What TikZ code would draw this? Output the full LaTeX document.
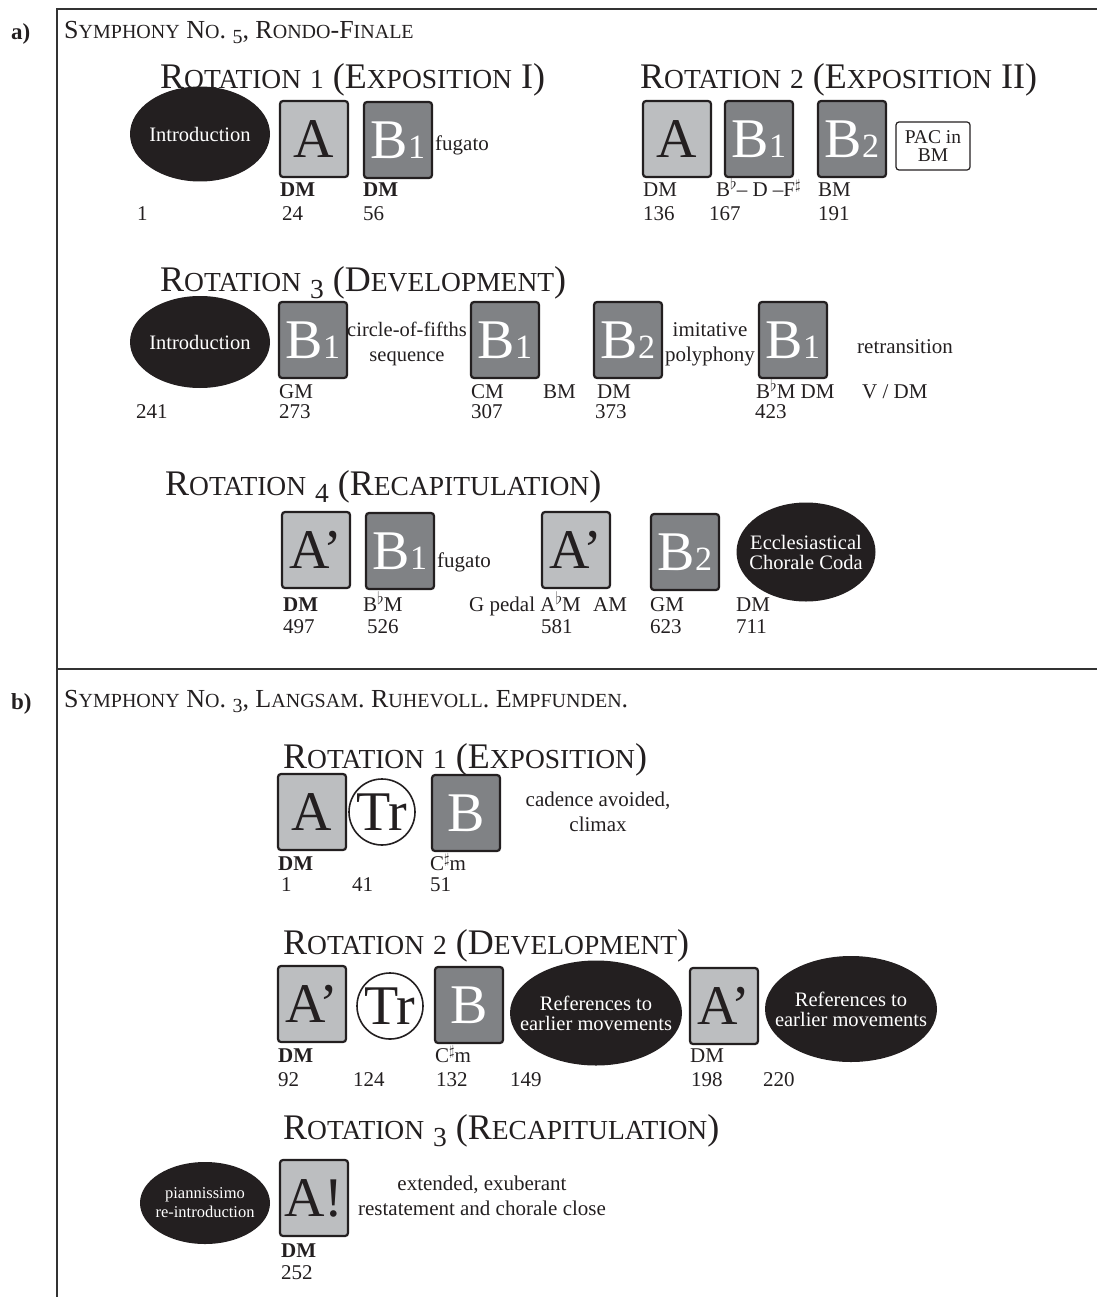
\documentclass[tikz,border=0pt]{standalone}
\usepackage{fontspec}
\setmainfont{Liberation Serif}
\usetikzlibrary{shapes.geometric}
\definecolor{lg}{HTML}{BCBEC0}
\definecolor{dg}{HTML}{808285}
\definecolor{ink}{HTML}{231F20}
\definecolor{frm}{HTML}{333333}
\newcommand\szBig{\fontsize{56}{56}\selectfont}
\newcommand\szHead{\fontsize{36}{36}\selectfont}
\newcommand\szTitle{\fontsize{26}{26}\selectfont}
\newcommand\szBody{\fontsize{21}{25}\selectfont}
\newcommand\szEll{\fontsize{20.5}{23}\selectfont}
\newcommand\szPac{\fontsize{19.5}{21}\selectfont}
\newcommand\szSmall{\fontsize{16.5}{19}\selectfont}
% fake small caps
\newcommand\hsc[1]{{\fontsize{27.5}{27.5}\selectfont #1}}
\newcommand\tsc[1]{{\fontsize{20}{20}\selectfont #1}}
% old-style-like digits
\newcommand\hdig[1]{\hsc{#1}}
\newcommand\hdigd[1]{\raisebox{-7pt}{\hsc{#1}}}
\newcommand\tdigd[1]{\raisebox{-5pt}{\tsc{#1}}}
% small digit in a box
\newcommand\bsub[1]{{\fontsize{34}{34}\selectfont #1}}
% accidentals
\newcommand\flt{\raisebox{7pt}{\fontsize{16}{16}\selectfont$\flat$}}
\newcommand\shp{\raisebox{7pt}{\fontsize{15}{15}\selectfont$\sharp$}}
\tikzset{
 sbox/.style={draw=ink, line width=2.2pt, rounded corners=3pt, minimum width=68pt, minimum height=76pt, inner sep=0pt, font=\szBig},
 lbox/.style={sbox, fill=lg, text=ink},
 dbox/.style={sbox, fill=dg, text=white},
 blob/.style={ellipse, fill=ink, inner sep=0pt},
 btext/.style={align=center, inner sep=0pt, text=white, font=\szEll},
 trc/.style={circle, draw=ink, line width=1.6pt, minimum size=66pt, inner sep=0pt, font=\szBig, text=ink},
 lbl/.style={anchor=base west, inner sep=0pt, font=\szBody, text=ink},
 note/.style={align=center, inner sep=0pt, font=\szBody, text=ink},
 head/.style={anchor=base west, inner sep=0pt, font=\szHead, text=ink},
 ttl/.style={anchor=base west, inner sep=0pt, font=\szTitle, text=ink},
 side/.style={anchor=base west, inner sep=0pt, font=\fontsize{23}{23}\selectfont\bfseries, text=ink},
}
\begin{document}
\begin{tikzpicture}[x=1pt,y=-1pt]
\useasboundingbox (0,0) rectangle (1097,1297);
% frame
\draw[frm, line width=2.5pt] (57,1297) -- (57,9) -- (1097,9);
\draw[frm, line width=2.5pt] (57,669) -- (1097,669);
% ================= a)
\node[side] (la) at (11,40) {a)};
\node[ttl] (ta) at (64,39) {S\tsc{YMPHONY} N\tsc{O}. \tdigd{5}, R\tsc{ONDO}-F\tsc{INALE}};
\node[head] (r1) at (160,89) {R\hsc{OTATION} \hdig{1} (E\hsc{XPOSITION} I)};
\node[head] (r2) at (640,89) {R\hsc{OTATION} \hdig{2} (E\hsc{XPOSITION} II)};
% row a1
\node[blob, minimum width=140pt, minimum height=95pt] (i1) at (200,134) {};
\node[btext] (i1t) at (i1.center) {Introduction};
\node[lbox] (a1A) at (314,139) {A};
\node[dbox] (a1B) at (398,140) {B\bsub{1}};
\node[lbl] (a1f) at (435,151) {fugato};
\node[lbl] (a1k1) at (280,197) {\textbf{DM}};
\node[lbl] (a1k2) at (363,197) {\textbf{DM}};
\node[lbl] (a1n1) at (137,221) {1};
\node[lbl] (a1n2) at (282,221) {24};
\node[lbl] (a1n3) at (363,221) {56};
% row a2
\node[lbox] (a2A) at (677,139) {A};
\node[dbox] (a2B1) at (759,139) {B\bsub{1}};
\node[dbox] (a2B2) at (852,139) {B\bsub{2}};
\node[draw=ink, line width=1.2pt, rounded corners=3pt, minimum width=74pt, minimum height=48pt, inner sep=0pt, align=center, font=\szPac, text=ink] (pac) at (933,146) {PAC in\\[-3pt]BM};
\node[lbl] (a2k1) at (643,197) {DM};
\node[lbl] (a2k2) at (716,197) {B\flt-- D --F\shp};
\node[lbl] (a2k3) at (818,197) {BM};
\node[lbl] (a2n1) at (643,221) {136};
\node[lbl] (a2n2) at (709,221) {167};
\node[lbl] (a2n3) at (818,221) {191};
% row a3
\node[blob, minimum width=140pt, minimum height=92pt] (i3) at (200,342) {};
\node[btext] (i3t) at (i3.center) {Introduction};
\node[head] (r3) at (160,291) {R\hsc{OTATION} \hdigd{3} (D\hsc{EVELOPMENT})};
\node[dbox] (a3B1) at (313,340) {B\bsub{1}};
\node[note, font=\fontsize{20.5}{25}\selectfont] (cof) at (407,344) {circle-of-fifths\\sequence};
\node[dbox] (a3B2) at (505,340) {B\bsub{1}};
\node[dbox] (a3B3) at (628,340) {B\bsub{2}};
\node[note] (imi) at (710,344) {imitative\\polyphony};
\node[dbox] (a3B4) at (793,340) {B\bsub{1}};
\node[note] (ret) at (905,347) {retransition};
\node[lbl] (a3k1) at (279,398) {GM};
\node[lbl] (a3k2) at (471,398) {CM};
\node[lbl] (a3k3) at (543,398) {BM};
\node[lbl] (a3k4) at (597,398) {DM};
\node[lbl] (a3k5) at (756,398) {B\flt M DM};
\node[lbl] (a3k6) at (862,398) {V / DM};
\node[lbl] (a3n1) at (136,418) {241};
\node[lbl] (a3n2) at (279,418) {273};
\node[lbl] (a3n3) at (471,418) {307};
\node[lbl] (a3n4) at (595,418) {373};
\node[lbl] (a3n5) at (755,418) {423};
% row a4
\node[head] (r4) at (165,495) {R\hsc{OTATION} \hdigd{4} (R\hsc{ECAPITULATION})};
\node[lbox] (a4A1) at (316,550) {A’};
\node[dbox] (a4B1) at (400,551) {B\bsub{1}};
\node[lbl] (a4f) at (437,567) {fugato};
\node[lbox] (a4A2) at (576,550) {A’};
\node[dbox] (a4B2) at (685,552) {B\bsub{2}};
\node[blob, minimum width=139pt, minimum height=99pt] (coda) at (806,552) {};
\node[btext] (codat) at (coda.center) {Ecclesiastical\\[-3pt]Chorale Coda};
\node[lbl] (a4k1) at (283,611) {\textbf{DM}};
\node[lbl] (a4k2) at (363,611) {B\flt M};
\node[lbl] (a4k3) at (469,611) {G pedal A\flt M};
\node[lbl] (a4k4) at (593,611) {AM};
\node[lbl] (a4k5) at (650,611) {GM};
\node[lbl] (a4k6) at (736,611) {DM};
\node[lbl] (a4n1) at (283,633) {497};
\node[lbl] (a4n2) at (367,633) {526};
\node[lbl] (a4n3) at (541,633) {581};
\node[lbl] (a4n4) at (650,633) {623};
\node[lbl] (a4n5) at (736,633) {711};
% ================= b)
\node[side] (lb) at (11,709) {b)};
\node[ttl] (tb) at (64,707) {S\tsc{YMPHONY} N\tsc{O}. \tdigd{3}, L\tsc{ANGSAM}. R\tsc{UHEVOLL}. E\tsc{MPFUNDEN}.};
% row b1
\node[head] (s1) at (283,768) {R\hsc{OTATION} \hdig{1} (E\hsc{XPOSITION})};
\node[lbox] (b1A) at (312,812) {A};
\node[trc] (b1T) at (382,812) {Tr};
\node[dbox] (b1B) at (466,813) {B};
\node[note] (cad) at (598,812) {cadence avoided,\\climax};
\node[lbl] (b1k1) at (278,870) {\textbf{DM}};
\node[lbl] (b1k2) at (430,870) {C\shp m};
\node[lbl] (b1n1) at (281,891) {1};
\node[lbl] (b1n2) at (352,891) {41};
\node[lbl] (b1n3) at (430,891) {51};
% row b2
\node[head] (s2) at (283,954) {R\hsc{OTATION} \hdig{2} (D\hsc{EVELOPMENT})};
\node[lbox] (b2A1) at (312,1004) {A’};
\node[trc] (b2T) at (390,1006) {Tr};
\node[dbox] (b2B) at (469,1005) {B};
\node[blob, minimum width=172pt, minimum height=105pt] (ref1) at (596,1013) {};
\node[btext] (ref1t) at (ref1.center) {References to\\[-3pt]earlier movements};
\node[lbox] (b2A2) at (724,1006) {A’};
\node[blob, minimum width=172pt, minimum height=106pt] (ref2) at (851,1009) {};
\node[btext] (ref2t) at (ref2.center) {References to\\[-3pt]earlier movements};
\node[lbl] (b2k1) at (278,1062) {\textbf{DM}};
\node[lbl] (b2k2) at (435,1062) {C\shp m};
\node[lbl] (b2k3) at (690,1062) {DM};
\node[lbl] (b2n1) at (278,1086) {92};
\node[lbl] (b2n2) at (353,1086) {124};
\node[lbl] (b2n3) at (436,1086) {132};
\node[lbl] (b2n4) at (510,1086) {149};
\node[lbl] (b2n5) at (691,1086) {198};
\node[lbl] (b2n6) at (763,1086) {220};
% row b3
\node[head] (s3) at (283,1139) {R\hsc{OTATION} \hdigd{3} (R\hsc{ECAPITULATION})};
\node[blob, minimum width=130pt, minimum height=82pt] (pia) at (205,1203) {};
\node[btext, font=\szSmall] (piat) at (pia.center) {piannissimo\\re-introduction};
\node[lbox] (b3A) at (314,1198) {A!};
\node[note] (ext) at (482,1196) {extended, exuberant\\restatement and chorale close};
\node[lbl] (b3k1) at (281,1257) {\textbf{DM}};
\node[lbl] (b3n1) at (281,1279) {252};
\end{tikzpicture}
\end{document}
